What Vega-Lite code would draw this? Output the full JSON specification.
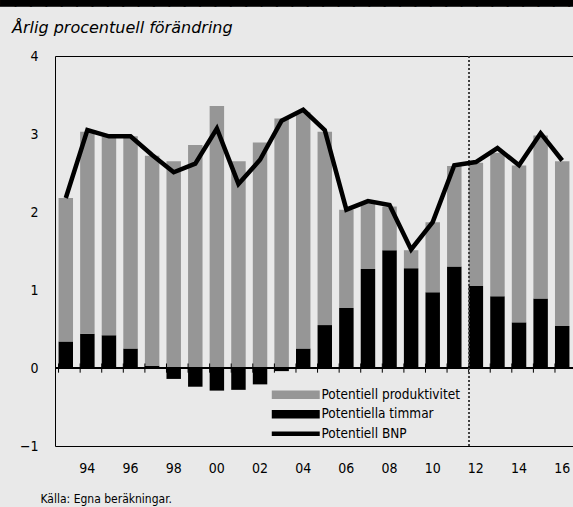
{
  "$schema": "https://vega.github.io/schema/vega-lite/v6.json",
  "autosize": {"type": "none"},
  "width": 518,
  "height": 390,
  "padding": {"left": 55, "top": 56, "right": 0, "bottom": 61},
  "background": "#e9e9e9",
  "config": {
    "view": {"stroke": "#000", "strokeWidth": 1},
    "font": "DejaVu Sans Condensed",
    "axis": {"labelFont": "DejaVu Sans Condensed", "labelFontSize": 14, "labelColor": "#000", "grid": false},
    "legend": {"labelFont": "DejaVu Sans Condensed", "labelFontSize": 13.5, "labelColor": "#000"},
    "style": {"group-title": {"stroke": "#000", "strokeWidth": 1.5}}
  },
  "title": {
    "text": "█████████████████████████████████████████████████",
    "font": "DejaVu Sans",
    "fontSize": 20,
    "fontWeight": "normal",
    "color": "#000",
    "subtitle": "Årlig procentuell förändring",
    "subtitleFont": "DejaVu Sans",
    "subtitleFontStyle": "italic",
    "subtitleFontSize": 16,
    "subtitleColor": "#000",
    "subtitlePadding": 15,
    "anchor": "start",
    "frame": "group",
    "dx": -55,
    "offset": 13,
    "encode": {"subtitle": {"update": {"dx": {"value": -43}}}}
  },
  "data": {
    "values": [
      {"year": 1993, "hours": 0.34, "prod": 1.84, "bnp": 2.18},
      {"year": 1994, "hours": 0.44, "prod": 2.59, "bnp": 3.05},
      {"year": 1995, "hours": 0.42, "prod": 2.55, "bnp": 2.97},
      {"year": 1996, "hours": 0.25, "prod": 2.72, "bnp": 2.97},
      {"year": 1997, "hours": 0.03, "prod": 2.69, "bnp": 2.73},
      {"year": 1998, "hours": -0.14, "prod": 2.65, "bnp": 2.51},
      {"year": 1999, "hours": -0.24, "prod": 2.86, "bnp": 2.62},
      {"year": 2000, "hours": -0.29, "prod": 3.36, "bnp": 3.07},
      {"year": 2001, "hours": -0.28, "prod": 2.65, "bnp": 2.36},
      {"year": 2002, "hours": -0.21, "prod": 2.89, "bnp": 2.67},
      {"year": 2003, "hours": -0.04, "prod": 3.2, "bnp": 3.17},
      {"year": 2004, "hours": 0.25, "prod": 3.03, "bnp": 3.31},
      {"year": 2005, "hours": 0.55, "prod": 2.48, "bnp": 3.05},
      {"year": 2006, "hours": 0.77, "prod": 1.26, "bnp": 2.03},
      {"year": 2007, "hours": 1.27, "prod": 0.85, "bnp": 2.14},
      {"year": 2008, "hours": 1.51, "prod": 0.56, "bnp": 2.09},
      {"year": 2009, "hours": 1.28, "prod": 0.23, "bnp": 1.52},
      {"year": 2010, "hours": 0.97, "prod": 0.9, "bnp": 1.87},
      {"year": 2011, "hours": 1.3, "prod": 1.29, "bnp": 2.6},
      {"year": 2012, "hours": 1.05, "prod": 1.58, "bnp": 2.64},
      {"year": 2013, "hours": 0.92, "prod": 1.84, "bnp": 2.82},
      {"year": 2014, "hours": 0.585, "prod": 2.01, "bnp": 2.6},
      {"year": 2015, "hours": 0.89, "prod": 2.09, "bnp": 3.01},
      {"year": 2016, "hours": 0.54, "prod": 2.11, "bnp": 2.66}
    ]
  },
  "layer": [
    {
      "transform": [{"fold": ["hours", "prod"], "as": ["serie", "val"]}],
      "mark": {"type": "bar"},
      "encoding": {
        "x": {
          "field": "year", "type": "ordinal",
          "scale": {"paddingInner": 0.33, "paddingOuter": 0.165},
          "axis": {
            "labelExpr": "datum.value % 2 == 0 ? slice(toString(datum.value), 2) : ''",
            "labelAngle": 0, "domain": false, "ticks": false, "labelPadding": 15,
            "title": "Källa: Egna beräkningar.", "titleX": -15, "titleY": 52,
            "titleAlign": "left", "titleBaseline": "middle", "titleAnchor": null,
            "titleFont": "DejaVu Sans Condensed", "titleFontSize": 12, "titleFontWeight": "normal", "titleColor": "#000"
          }
        },
        "y": {
          "field": "val", "type": "quantitative", "stack": "zero",
          "scale": {"domain": [-1, 4], "nice": false},
          "axis": {"values": [-1, 0, 1, 2, 3, 4], "format": "d", "domain": false, "ticks": false, "labelPadding": 17, "title": null}
        },
        "color": {
          "field": "serie", "type": "nominal",
          "scale": {"domain": ["prod", "hours", "bnp"], "range": ["#969696", "#000000", "#000000"]},
          "legend": {
            "orient": "none", "legendX": 234, "legendY": 332, "title": null,
            "labelExpr": "datum.value == 'prod' ? 'Potentiell produktivitet' : datum.value == 'hours' ? 'Potentiella timmar' : 'Potentiell BNP'",
            "symbolSize": 92, "labelOffset": 19, "rowPadding": 4.5,
            "symbolStrokeWidth": 0,
            "encode": {
              "symbols": {
                "update": {
                  "shape": {"signal": "datum.value == 'bnp' ? 'M-5,-0.45H5V0.45H-5Z' : 'M-5,-0.9H5V0.9H-5Z'"},
                  "fill": {"signal": "scale('color', datum.value)"},
                  "fillOpacity": {"value": 1},
                  "strokeWidth": {"value": 0}
                }
              }
            }
          }
        },
        "order": {"field": "serie", "sort": "ascending"}
      }
    },
    {
      "mark": {"type": "rule", "color": "#000", "strokeWidth": 1.5},
      "encoding": {"y": {"datum": 0, "type": "quantitative"}}
    },
    {
      "mark": {"type": "rule", "color": "#000", "strokeWidth": 1},
      "encoding": {
        "x": {"field": "year", "type": "ordinal", "bandPosition": 0},
        "y": {"datum": -0.06, "type": "quantitative"},
        "y2": {"datum": 0.058}
      }
    },
    {
      "mark": {"type": "rule", "color": "#444", "strokeWidth": 1, "strokeDash": [2, 2]},
      "encoding": {"x": {"datum": 2012, "type": "ordinal", "bandPosition": 0}}
    },
    {
      "mark": {"type": "line", "strokeWidth": 4.5, "strokeJoin": "miter"},
      "encoding": {
        "x": {"field": "year", "type": "ordinal"},
        "y": {"field": "bnp", "type": "quantitative"},
        "color": {"datum": "bnp"}
      }
    }
  ]
}
